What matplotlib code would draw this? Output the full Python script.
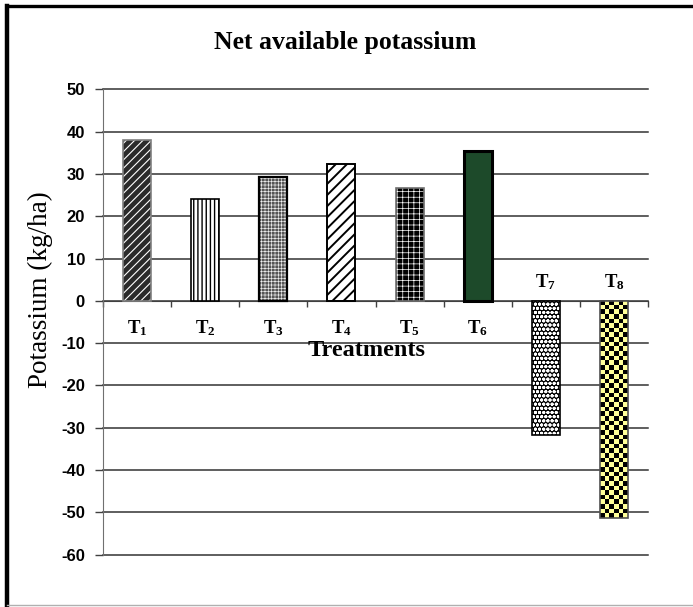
import numpy as np
import matplotlib
matplotlib.use("Agg")
import matplotlib.pyplot as plt
from matplotlib.lines import Line2D

treatments = ["1", "2", "3", "4", "5", "6", "7", "8"]
potassium = [38.0, 24.0, 29.3, 32.3, 26.6, 35.4, -31.8, -51.4]
yticks = [50, 40, 30, 20, 10, 0, -10, -20, -30, -40, -50, -60]

# per bar: face, hatch, hatch colour, hatch width, edge colour, edge width
bar_styles = [
    ("#2b2b2b", "////", "white", 0.8, "#808080", 1.2),
    ("white", "||||", "black", 1.0, "black", 1.2),
    ("#555555", "+++++", "#f0f0f0", 0.45, "black", 1.6),
    ("white", "///", "black", 1.4, "black", 1.4),
    ("black", "+++", "white", 0.5, "#707070", 1.2),
    ("#1d4a2a", "", "#1d4a2a", 1.0, "black", 2.2),
    ("black", "oooo", "white", 1.0, "black", 1.2),
    ("#ffff99", "", "#ffff99", 1.0, "#505050", 1.2),
]

plt.rcParams["mathtext.fontset"] = "custom"
plt.rcParams["mathtext.rm"] = "Liberation Serif:bold"
plt.rcParams["mathtext.it"] = "Liberation Serif:bold"
plt.rcParams["mathtext.bf"] = "Liberation Serif:bold"

W, H = 693, 607
fig = plt.figure(figsize=(W / 100, H / 100), dpi=100)
ax = fig.add_axes([103 / W, 1 - 554.7 / H, (648 - 103) / W, (554.7 - 89.3) / H])

x = np.arange(len(potassium))
bw = 0.41
for i, v in enumerate(potassium):
    face, hatch, hcol, hlw, ecol, lw = bar_styles[i]
    with plt.rc_context({"hatch.linewidth": hlw}):
        b = ax.bar(x[i], v, width=bw, color=face, hatch=hatch, edgecolor=hcol,
                   linewidth=0, zorder=3)
    for p in b.patches:
        if hasattr(p, "set_hatch_linewidth"):
            p.set_hatch_linewidth(hlw)
    ax.bar(x[i], v, width=bw, fill=False, edgecolor=ecol, linewidth=lw, zorder=4)
    if i == 7:
        # checkerboard texture clipped to the bar
        p = b.patches[0]
        nx = 6
        ny = int(round(abs(v) * 4.23 / 4.6))
        board = np.add.outer(np.arange(ny), np.arange(nx)) % 2
        cmap = matplotlib.colors.ListedColormap(["black", "#ffff99"])
        im = ax.imshow(board, cmap=cmap, aspect="auto", interpolation="nearest",
                       extent=(p.get_x(), p.get_x() + p.get_width(),
                               p.get_y() + p.get_height(), p.get_y()),
                       zorder=3.5)
        im.set_clip_path(p)

# category labels: below the zero line for positive bars, above for negative
for i, v in enumerate(potassium):
    off = -27 if v > 0 else 19
    ax.annotate(r"$\mathrm{T}_{%s}$" % treatments[i], xy=(x[i], 0),
                xytext=(0, off * 0.72), textcoords="offset points",
                ha="center", va="center", fontsize=13.5, color="black", zorder=5)

ax.set_xlim(-0.5, len(potassium) - 0.5)
ax.set_ylim(-60, 50)
ax.set_yticks(yticks)
ax.set_yticklabels([str(t) for t in yticks], fontsize=12, fontweight="bold",
                   family="Liberation Sans")
ax.set_xticks(np.arange(-0.5, len(potassium)))
ax.set_xticklabels([])
ax.tick_params(axis="x", direction="out", length=4, width=1, color="#404040")
ax.tick_params(axis="y", direction="out", length=6, width=1, color="#404040", pad=7)

ax.spines["top"].set_visible(False)
ax.spines["right"].set_visible(False)
ax.spines["bottom"].set_position(("data", 0))
ax.spines["bottom"].set_color("#404040")
ax.spines["left"].set_color("#707070")
ax.spines["bottom"].set_zorder(2)

ax.yaxis.grid(True, color="#333333", linewidth=1.1)
ax.set_axisbelow(True)
for gl in ax.get_ygridlines():
    gl.set_clip_on(False)

fig.text(345 / W, 1 - 43 / H, "Net available potassium", ha="center", va="center",
         fontsize=18.5, fontweight="bold", family="Liberation Serif")
fig.text(367 / W, 1 - 351 / H, "Treatments", ha="center", va="center",
         fontsize=17.5, fontweight="bold", family="Liberation Serif")
fig.text(40 / W, 1 - 290 / H, "Potassium (kg/ha)", ha="center", va="center",
         rotation=90, fontsize=19.5, family="Liberation Serif")

# outer frame
fig.add_artist(Line2D([7 / W, 7 / W], [2 / H, 1 - 6 / H], color="black", lw=3.2,
                      transform=fig.transFigure))
fig.add_artist(Line2D([7 / W, 1], [1 - 6 / H, 1 - 6 / H], color="black", lw=2.4,
                      transform=fig.transFigure))
fig.add_artist(Line2D([7 / W, 1], [2 / H, 2 / H], color="#b0b0b0", lw=1.0,
                      transform=fig.transFigure))

fig.savefig("out.png", dpi=100)
